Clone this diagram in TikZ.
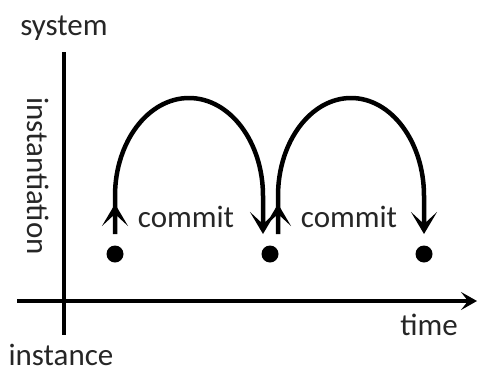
\documentclass[tikz,border=0pt]{standalone}
\usepackage{fontspec}
\setmainfont{Carlito}
\usetikzlibrary{arrows.meta}
\begin{document}
\begin{tikzpicture}[x=1pt,y=-1pt,
  lbl/.style={font=\fontsize{31}{31}\selectfont, text=black!85, inner sep=0pt},
  dot/.style={circle, fill=black, inner sep=0pt, minimum size=17pt},
  axis/.style={line width=3.5pt},
  loopline/.style={line width=4.5pt},
  headtip/.style={-{Stealth[length=22pt,width=26pt,inset=12pt]}}
]
\useasboundingbox (0,0) rectangle (478,372);
% axes
\coordinate (vtop) at (64,52);
\coordinate (vbot) at (64,335);
\coordinate (hl) at (17,301);
\coordinate (hr) at (477,301);
\draw[axis] (vtop) -- (vbot);
\draw[axis, -{Stealth[length=16pt,width=18pt,inset=7pt]}] (hl) -- (hr);
% labels
\node[lbl] (sys) at (64,28) {system};
\node[lbl] (inst) at (61,355) {instance};
\node[lbl] (time) at (429,325) {time};
\node[lbl, rotate=-90] (instn) at (38,176) {instantiation};
\node[lbl] (c1) at (186,217) {commit};
\node[lbl] (c2) at (349,217) {commit};
% dots
\node[dot] (d1) at (115,254) {};
\node[dot] (d2) at (270,254) {};
\node[dot] (d3) at (424,254) {};
% loops
\coordinate (s1) at (115,234);
\coordinate (m1) at (115,204);
\coordinate (e1) at (263,234);
\coordinate (s2) at (278,234);
\coordinate (m2) at (278,204);
\coordinate (e2) at (424,234);
\draw[loopline, headtip] (s1) -- (115,196) arc (180:360:74 and 98) -- (e1);
\draw[loopline, headtip] (s1) -- (m1);
\draw[loopline, headtip] (s2) -- (278,196) arc (180:360:73 and 98) -- (e2);
\draw[loopline, headtip] (s2) -- (m2);
\end{tikzpicture}
\end{document}
